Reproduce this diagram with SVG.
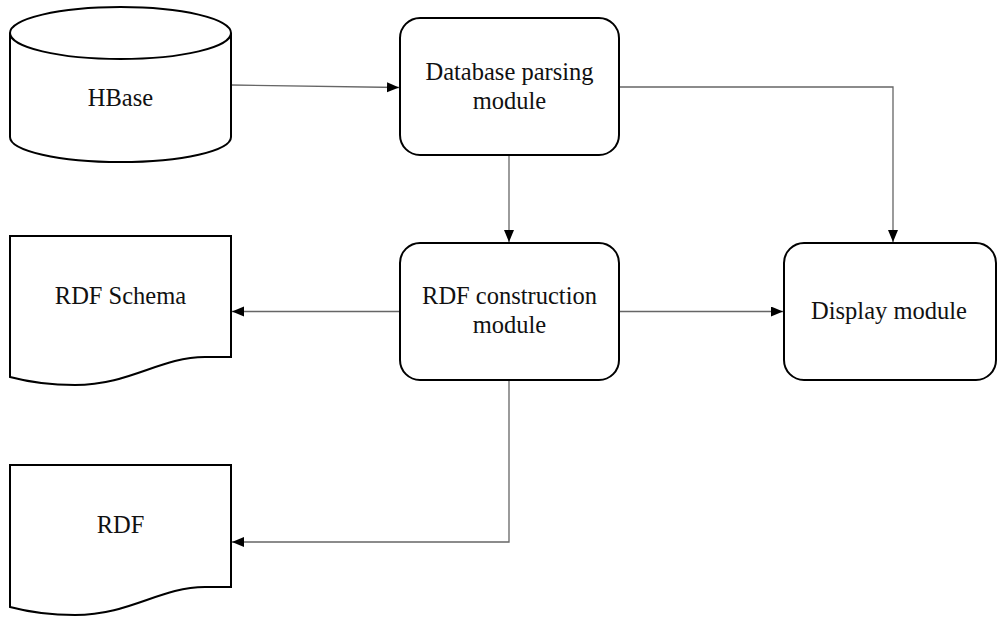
<svg xmlns="http://www.w3.org/2000/svg" width="998" height="617" viewBox="0 0 998 617">
<style>
.node{fill:#fff;stroke:#000;stroke-width:2}
.lbl{font-family:'Liberation Serif','Times New Roman',serif;font-size:24.5px;fill:#111;text-anchor:middle}
.edge{fill:none;stroke:#666;stroke-width:1.3}
</style>
<defs>
<marker id="ah" markerUnits="userSpaceOnUse" markerWidth="13" markerHeight="11" refX="12" refY="5" orient="auto">
<path d="M0,0 L12,5 L0,10 z" fill="#000"/>
</marker>
</defs>
<rect width="998" height="617" fill="#fff"/>
<g id="edges">
<path class="edge" d="M231,85 L399,87.5" marker-end="url(#ah)"/>
<path class="edge" d="M509,155 L509,242" marker-end="url(#ah)"/>
<path class="edge" d="M619,87 L893,87 L893,242" marker-end="url(#ah)"/>
<path class="edge" d="M400,311.5 L232,311.5" marker-end="url(#ah)"/>
<path class="edge" d="M619,311.5 L783,311.5" marker-end="url(#ah)"/>
<path class="edge" d="M509,380 L509,542 L232,542" marker-end="url(#ah)"/>
</g>
<g id="hbase">
<path class="node" d="M10,33 A110.5,26 0 0 1 231,33 L231,137 A110.5,25 0 0 1 10,137 Z"/>
<path class="node" fill="none" d="M10,33 A110.5,26 0 0 0 231,33"/>
<text class="lbl" x="120.5" y="106">HBase</text>
</g>
<g id="db-parsing">
<rect class="node" x="400" y="18" width="219" height="137" rx="20" ry="20"/>
<text class="lbl" x="509.5" y="80">Database parsing</text>
<text class="lbl" x="509.5" y="109">module</text>
</g>
<g id="rdf-construction">
<rect class="node" x="400" y="243" width="219" height="137" rx="20" ry="20"/>
<text class="lbl" x="509.5" y="304">RDF construction</text>
<text class="lbl" x="509.5" y="333">module</text>
</g>
<g id="display">
<rect class="node" x="784" y="243" width="212" height="137" rx="20" ry="20"/>
<text class="lbl" x="889" y="319">Display module</text>
</g>
<g id="rdf-schema">
<path class="node" d="M10,236 L231,236 L231,357 L205,357 C160,357 130,385 75,385 C45,385 25,381 10,377 Z"/>
<text class="lbl" x="120.5" y="304">RDF Schema</text>
</g>
<g id="rdf">
<path class="node" d="M10,465 L231,465 L231,587 L205,587 C160,587 130,615 75,615 C45,615 25,611 10,607 Z"/>
<text class="lbl" x="120.5" y="533">RDF</text>
</g>
</svg>
